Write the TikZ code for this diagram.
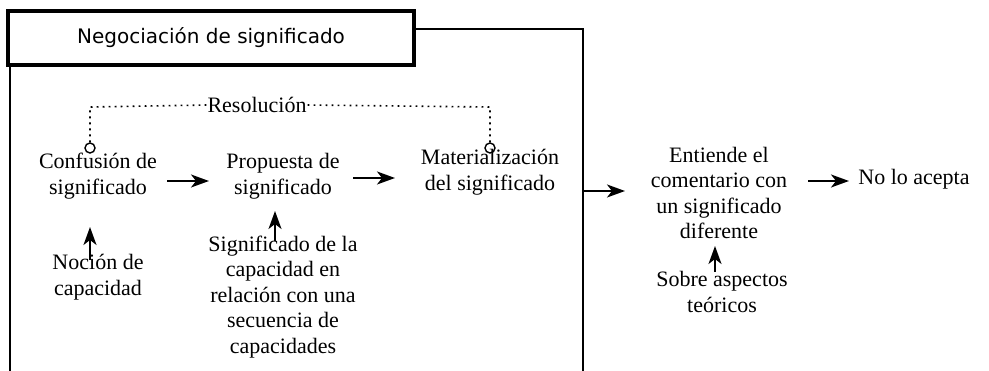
\documentclass[tikz,border=0pt]{standalone}
\usepackage{fontspec}
\setmainfont{Liberation Serif}
\newfontfamily\titlefont{DejaVu Sans}
\usetikzlibrary{arrows.meta}
\begin{document}
\begin{tikzpicture}[x=1pt,y=-1pt,
  txt/.style={align=center,font=\fontsize{22}{25.5}\selectfont,inner sep=0pt},
  arr/.style={line width=1.8pt,-{Stealth[length=18pt,width=13pt,inset=5pt]}},
  dots/.style={line width=1.6pt,dash pattern=on 1.8pt off 4.2pt},
  ring/.style={circle,draw,line width=1.4pt,minimum size=10pt,inner sep=0pt}]
\useasboundingbox (0,0) rectangle (989,371);
% frame
\draw[line width=1.8pt] (10,64) -- (10,372);
\draw[line width=1.8pt] (414,29) -- (583,29) -- (583,372);
\node[draw,line width=3.2pt,minimum width=406pt,minimum height=54pt,inner sep=0pt,
  font=\titlefont\fontsize{20}{24}\selectfont] (title) at (211,38) {Negociación de significado};
% nodes
\node[txt] (conf) at (98,176) {Confusión de\\significado};
\node[txt] (prop) at (283,176) {Propuesta de\\significado};
\node[txt] (mat) at (490,172) {Materialización\\del significado};
\node[txt] (noc) at (98,277) {Noción de\\capacidad};
\node[txt] (sig) at (283,297) {Significado de la\\capacidad en\\relación con una\\secuencia de\\capacidades};
\node[txt] (ent) at (719,193) {Entiende el\\comentario con\\un significado\\diferente};
\node[txt] (no) at (914,179) {No lo acepta};
\node[txt] (sob) at (722,292) {Sobre aspectos\\teóricos};
\node[txt,fill=white,inner xsep=1pt] (res) at (257,105) {Resolución};
% rings
\node[ring] (r1) at (90,148) {};
\node[ring] (r2) at (490,148) {};
\coordinate (c1) at (90,107);
\coordinate (c2) at (490,107);
\draw[dots] (r1.north) -- (c1) -- (res.west);
\draw[dots] (r2.north) -- (c2) -- (res.east);
% arrows
\draw[arr] (167,181) -- (209,181);
\draw[arr] (353,178) -- (395,178);
\coordinate (f1) at (583,191);
\draw[arr] (f1) -- (625,191);
\draw[arr] (808,181) -- (849,181);
\draw[arr] (90,260) -- (90,227);
\draw[arr] (275,241) -- (275,211);
\draw[arr] (715,272) -- (715,246);
\end{tikzpicture}
\end{document}
